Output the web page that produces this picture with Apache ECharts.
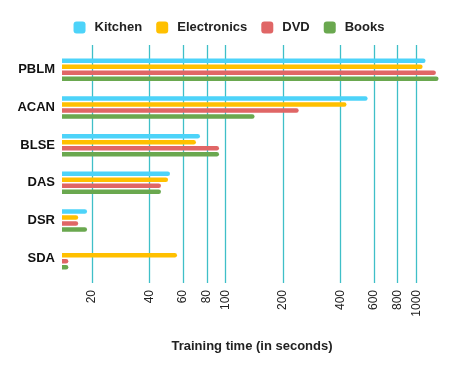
<!DOCTYPE html>
<html><head><meta charset="utf-8">
<script src="https://cdn.jsdelivr.net/npm/echarts@6/dist/echarts.min.js"></script>
<style>html,body{margin:0;padding:0;background:#fff}#c{width:458px;height:371px}</style>
</head><body><div id="c"></div>
<script>
const categories = ['PBLM','ACAN','BLSE','DAS','DSR','SDA'];
const kitchen     = [1119, 556, 73.5, 51.2, 18.8, null];
const electronics = [1080, 431, 70,   50,   16.9, 55.7];
const dvd         = [1268, 242, 92.5, 45.9, 16.9, 15];
const books       = [1309, 142, 92.5, 45.9, 18.8, 15];
const tickValues  = [20, 40, 60, 80, 100, 200, 400, 600, 800, 1000];

const seriesDefs = [
  {name:'Kitchen', data:kitchen, color:'#4dd3f9'},
  {name:'Electronics', data:electronics, color:'#ffc000'},
  {name:'DVD', data:dvd, color:'#e06666'},
  {name:'Books', data:books, color:'#6aa84f'}
];
const lineColor = '#3fbfc8';
const font = 'Liberation Sans, Arial, sans-serif';
const chart = echarts.init(document.getElementById('c'), null, {renderer:'canvas'});
const xMin = 13.9, xMax = 1365;
chart.setOption({
  animation:false,
  textStyle:{fontFamily:font},
  legend:{
    top:16, left:'center', itemWidth:12, itemHeight:12, itemGap:14,
    icon:'roundRect',
    textStyle:{fontFamily:font, fontWeight:'bold', fontSize:13, color:'#222', padding:[0,0,0,4]},
    data: seriesDefs.map(s=>s.name)
  },
  grid:{left:62, width:380, top:51, height:226, containLabel:false},
  xAxis:[{
    type:'log', min:xMin, max:xMax, position:'bottom',
    axisLine:{show:false},
    axisTick:{show:true, customValues:tickValues, length:6, lineStyle:{color:lineColor, width:1.3}},
    splitLine:{show:true, lineStyle:{color:lineColor, width:1.3}},
    minorSplitLine:{show:false},
    axisLabel:{customValues:tickValues, rotate:90, margin:13, fontSize:12, color:'#222', fontFamily:font,
      formatter:v=>String(Math.round(v))},
    name:'Training time (in seconds)', nameLocation:'middle', nameGap:63,
    nameTextStyle:{fontWeight:'bold', fontSize:13, color:'#222', fontFamily:font}
  },{
    type:'log', min:xMin, max:xMax, position:'top',
    axisLine:{show:false},
    axisTick:{show:true, customValues:tickValues, length:6, lineStyle:{color:lineColor, width:1.3}},
    splitLine:{show:false},
    axisLabel:{show:false}
  }],
  yAxis:{
    type:'category', data:categories, inverse:true,
    axisLine:{show:false}, axisTick:{show:false}, splitLine:{show:false},
    axisLabel:{margin:7, fontSize:13, fontWeight:'bold', color:'#111', fontFamily:font}
  },
  series: seriesDefs.map(s=>({
    type:'bar', name:s.name, data:s.data, xAxisIndex:0,
    barWidth:4.5, barGap:'33%',
    itemStyle:{color:s.color, borderRadius:[0,2.5,2.5,0]}
  }))
});
</script></body></html>
